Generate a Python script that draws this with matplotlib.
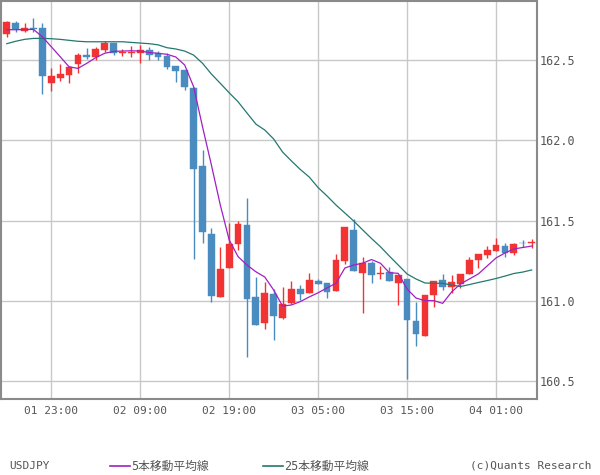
import matplotlib
matplotlib.use("Agg")
import matplotlib.pyplot as plt
from matplotlib.lines import Line2D
import numpy as np
import pandas as pd

# ---- data (USDJPY hourly, 01 18:00 .. 04 05:00) ----
opens = [162.664, 162.731, 162.683, 162.700, 162.700, 162.359, 162.390, 162.409, 162.473, 162.531,
         162.521, 162.562, 162.606, 162.544, 162.542, 162.546, 162.562, 162.542, 162.525, 162.463,
         162.438, 162.326, 161.840, 161.416, 161.025, 161.206, 161.356, 161.472, 161.024, 160.863,
         161.042, 160.895, 160.986, 161.073, 161.050, 161.123, 161.111, 161.063, 161.250, 161.441,
         161.175, 161.235, 161.169, 161.179, 161.113, 161.136, 160.874, 160.782, 161.038, 161.129,
         161.088, 161.106, 161.169, 161.254, 161.287, 161.312, 161.341, 161.300, 161.362, 161.362]
highs = [162.743, 162.743, 162.731, 162.762, 162.731, 162.450, 162.475, 162.460, 162.544, 162.575,
         162.581, 162.617, 162.606, 162.569, 162.587, 162.594, 162.581, 162.556, 162.544, 162.463,
         162.438, 162.332, 161.939, 161.453, 161.335, 161.486, 161.497, 161.640, 161.148, 161.117,
         161.072, 161.086, 161.123, 161.098, 161.173, 161.136, 161.111, 161.291, 161.460, 161.510,
         161.273, 161.248, 161.217, 161.210, 161.161, 161.136, 160.992, 161.036, 161.123, 161.167,
         161.161, 161.167, 161.273, 161.291, 161.341, 161.391, 161.360, 161.360, 161.379, 161.387]
lows = [162.645, 162.673, 162.676, 162.675, 162.290, 162.309, 162.371, 162.359, 162.421, 162.506,
        162.500, 162.550, 162.529, 162.527, 162.521, 162.483, 162.500, 162.500, 162.444, 162.365,
        162.315, 161.260, 161.362, 160.994, 161.025, 161.206, 161.316, 160.652, 160.851, 160.826,
        160.757, 160.888, 160.980, 161.007, 161.050, 161.105, 161.019, 161.063, 161.231, 161.187,
        160.926, 161.113, 161.138, 161.125, 160.976, 160.513, 160.720, 160.782, 160.959, 161.069,
        161.050, 161.081, 161.169, 161.204, 161.267, 161.312, 161.273, 161.287, 161.335, 161.331]
closes = [162.737, 162.691, 162.700, 162.695, 162.402, 162.400, 162.415, 162.457, 162.531, 162.521,
          162.569, 162.606, 162.546, 162.547, 162.552, 162.562, 162.529, 162.521, 162.457, 162.434,
          162.334, 161.821, 161.430, 161.030, 161.198, 161.354, 161.478, 161.013, 160.851, 161.048,
          160.907, 160.980, 161.073, 161.042, 161.129, 161.105, 161.057, 161.254, 161.460, 161.187,
          161.235, 161.162, 161.173, 161.125, 161.161, 160.882, 160.795, 161.036, 161.123, 161.088,
          161.117, 161.167, 161.254, 161.291, 161.316, 161.348, 161.300, 161.354, 161.358, 161.366]
ma5 = [162.689, 162.689, 162.690, 162.691, 162.645, 162.583, 162.521, 162.458, 162.448, 162.480,
       162.515, 162.542, 162.554, 162.556, 162.558, 162.556, 162.547, 162.542, 162.536, 162.519,
       162.469, 162.334, 162.085, 161.846, 161.597, 161.379, 161.275, 161.223, 161.181, 161.148,
       161.067, 160.967, 160.974, 160.995, 161.024, 161.050, 161.080, 161.109, 161.204, 161.223,
       161.234, 161.257, 161.234, 161.175, 161.171, 161.073, 161.017, 161.001, 161.001, 160.984,
       161.055, 161.105, 161.136, 161.167, 161.217, 161.267, 161.298, 161.323, 161.332, 161.341]
ma25 = [162.602, 162.617, 162.629, 162.635, 162.635, 162.633, 162.629, 162.623, 162.617, 162.614,
        162.614, 162.614, 162.614, 162.614, 162.610, 162.606, 162.602, 162.595, 162.577, 162.569,
        162.556, 162.531, 162.480, 162.413, 162.355, 162.296, 162.240, 162.170, 162.101, 162.064,
        162.008, 161.927, 161.871, 161.818, 161.771, 161.705, 161.653, 161.597, 161.547, 161.497,
        161.442, 161.388, 161.337, 161.279, 161.223, 161.167, 161.136, 161.111, 161.109, 161.109,
        161.098, 161.089, 161.101, 161.114, 161.126, 161.139, 161.154, 161.170, 161.179, 161.192]
times = pd.date_range("2024-07-01 18:00", periods=len(closes), freq="h")
tick_labels = ["01 23:00", "02 09:00", "02 19:00", "03 05:00", "03 15:00", "04 01:00"]
ytick_values = [160.5, 161.0, 161.5, 162.0, 162.5]
ytick_labels = ["160.5", "161.0", "161.5", "162.0", "162.5"]

# ---- style ----
UP = "#f23333"
DOWN = "#4a8bc0"
C_MA5 = "#a21fc2"
C_MA25 = "#23786f"
GRID = "#c8c8c8"
FRAME = "#8a8a8a"
TXT = "#555555"
MONO = ["DejaVu Sans Mono", "Noto Sans CJK JP"]

fig = plt.figure(figsize=(6.0, 4.75), dpi=100)
ax = fig.add_axes([1 / 600, 1 - 399 / 475, 536 / 600, 398 / 475])

x = np.arange(len(closes))
o = np.array(opens); c = np.array(closes); h = np.array(highs); l = np.array(lows)
up = c >= o
cols = np.where(up, UP, DOWN)

ax.vlines(x, l, h, colors=cols, linewidth=1.0, zorder=3)
body_bottom = np.minimum(o, c)
body_h = np.maximum(np.abs(c - o), 0.0035)
ax.bar(x, body_h, bottom=body_bottom, width=0.76, color=cols, edgecolor=cols,
       linewidth=0.3, zorder=4)

ax.plot(x, ma25, color=C_MA25, linewidth=0.9, zorder=5)
ax.plot(x, ma5, color=C_MA5, linewidth=0.9, zorder=6)

ax.set_xlim(-0.65, 59.6)
ax.set_ylim(160.388, 162.868)

time_str = [t.strftime("%d %H:%M") for t in times]
xticks = [time_str.index(lbl) for lbl in tick_labels]
ax.set_xticks(xticks)
ax.set_xticklabels(tick_labels, family=MONO, fontsize=8, color=TXT)
ax.set_yticks(ytick_values)
ax.set_yticklabels(ytick_labels, family=MONO, fontsize=8.5, color=TXT)
ax.yaxis.tick_right()
ax.tick_params(axis="both", length=0)
ax.tick_params(axis="x", pad=5)
ax.tick_params(axis="y", pad=2)
for lab in ax.get_yticklabels():
    lab.set_verticalalignment("center_baseline")
ax.grid(True, color=GRID, linewidth=1.0, zorder=0)
ax.set_axisbelow(True)
for s in ax.spines.values():
    s.set_color(FRAME)
    s.set_linewidth(1.5)

# ---- bottom legend row ----
yrow = 1 - 466 / 475
fig.text(9 / 600, yrow, "USDJPY", family=MONO, fontsize=8, color=TXT, va="center", ha="left")
fig.add_artist(Line2D([110 / 600, 130 / 600], [yrow, yrow], color=C_MA5, linewidth=1.2))
fig.text(131 / 600, yrow, "5本移動平均線", family=MONO, fontsize=8.5, color=TXT, va="center", ha="left")
fig.add_artist(Line2D([263 / 600, 283 / 600], [yrow, yrow], color=C_MA25, linewidth=1.2))
fig.text(284 / 600, yrow, "25本移動平均線", family=MONO, fontsize=8.5, color=TXT, va="center", ha="left")
fig.text(591 / 600, yrow, "(c)Quants Research", family=MONO, fontsize=8, color=TXT, va="center", ha="right")

fig.savefig("out.png", dpi=100, facecolor="white")
